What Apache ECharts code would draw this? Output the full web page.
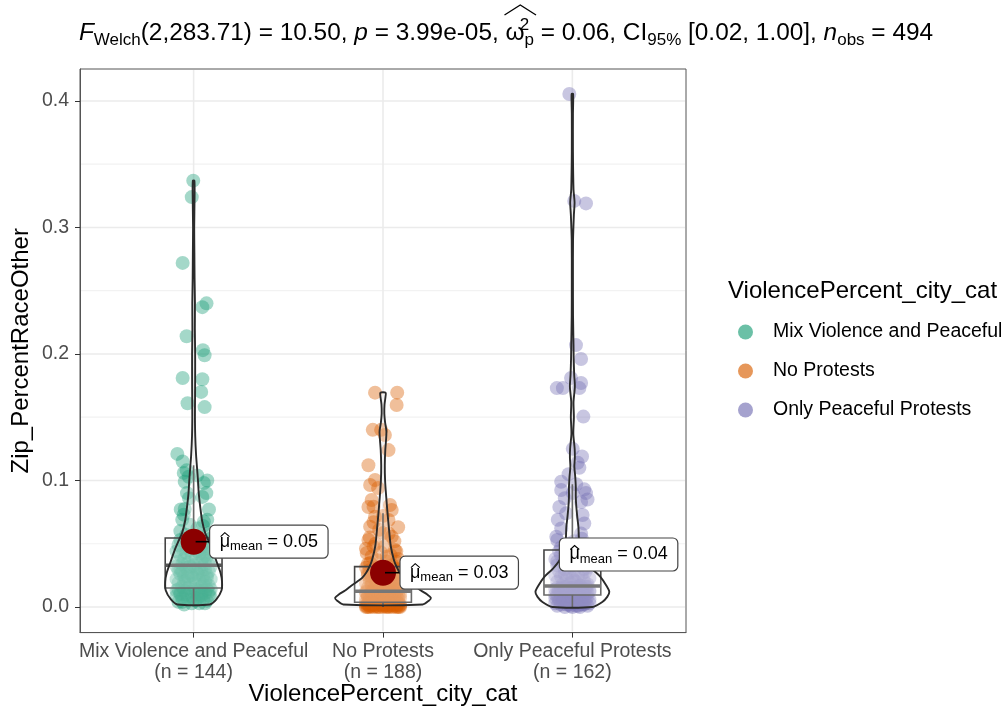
<!DOCTYPE html>
<html><head><meta charset="utf-8">
<script src="https://cdn.jsdelivr.net/npm/echarts@6/dist/echarts.min.js"></script>
<style>html,body{margin:0;padding:0;background:#fff}#c{width:1005px;height:712px}</style>
</head><body><div id="c"></div>
<script>
// ---------------- DATA ----------------
const categories = ['Mix Violence and Peaceful', 'No Protests', 'Only Peaceful Protests'];
const groupCounts = [144, 188, 162];
const yTicks = [0, 0.1, 0.2, 0.3, 0.4];
const yTickLabels = ['0.0', '0.1', '0.2', '0.3', '0.4'];
const yMinorTicks = [0.05, 0.15, 0.25, 0.35];
const xTicks = [1, 2, 3];

// points: [jitter offset (category units), value]
const pointsMix = [
[-0.002,0.337],[-0.010,0.324],[-0.058,0.272],[0.068,0.240],[0.046,0.237],[-0.037,0.214],[0.049,0.203],[0.058,0.199],
[-0.058,0.181],[0.046,0.180],[0.040,0.170],[-0.032,0.161],[0.058,0.158],[-0.086,0.121],[-0.058,0.115],[-0.052,0.106],
[-0.037,0.108],[-0.026,0.103],[-0.047,0.099],[0.072,0.100],[0.054,0.098],[0.019,0.104],[0.067,0.090],[-0.035,0.090],
[-0.024,0.086],[0.046,0.087],[-0.068,0.077],[0.081,0.077],[-0.047,0.0775],[-0.052,0.073],[-0.060,0.069],[0.072,0.069],
[0.054,0.0675],[0.079,0.0585],
[-0.05,0.002],[0.03,0.003],[-0.08,0.004],[0.07,0.005],[0.01,0.005],[-0.03,0.006],[0.05,0.006],[-0.06,0.007],[0.09,0.008],
[-0.01,0.008],[0.04,0.009],[-0.09,0.009],[0.02,0.010],[-0.04,0.010],[0.06,0.011],[-0.07,0.011],[0.00,0.012],[0.08,0.012],
[-0.02,0.012],[0.03,0.013],[-0.05,0.013],[0.05,0.013],[-0.08,0.014],[0.01,0.014],[0.07,0.014],[-0.03,0.015],[-0.06,0.004],
[0.06,0.003],[0.00,0.006],[-0.07,0.010],[0.08,0.009],[-0.01,0.003],[0.04,0.011],[-0.09,0.013],[0.02,0.007],[0.09,0.014],
[0.04,0.016],[-0.06,0.016],[0.08,0.017],[-0.02,0.018],[0.01,0.019],[-0.08,0.019],[0.06,0.020],[-0.04,0.021],[0.03,0.021],
[-0.09,0.022],[0.09,0.022],[0.00,0.023],[-0.05,0.024],[0.05,0.024],[-0.01,0.025],[0.07,0.025],[-0.07,0.026],[0.02,0.027],
[-0.03,0.027],[0.08,0.028],[-0.06,0.028],[0.04,0.029],[-0.08,0.029],[0.01,0.030],[0.06,0.030],[-0.04,0.031],[0.03,0.031],
[-0.02,0.032],[0.09,0.032],[-0.09,0.032],[0.05,0.018],[-0.05,0.020],[0.07,0.023],[-0.03,0.024],[0.02,0.026],[-0.07,0.030],
[0.00,0.033],[-0.06,0.034],[0.06,0.034],[-0.03,0.035],[0.04,0.036],[-0.08,0.036],[0.08,0.037],[0.01,0.038],[-0.05,0.038],
[0.05,0.039],[-0.01,0.040],[0.07,0.040],[-0.07,0.041],[0.03,0.042],[-0.04,0.043],[0.09,0.043],[-0.09,0.044],[0.02,0.044],
[-0.02,0.045],[0.06,0.046],[-0.06,0.046],[0.04,0.047],[-0.03,0.048],[0.08,0.048],[0.00,0.049],[-0.08,0.049],[0.05,0.050],
[-0.05,0.051],[0.07,0.051],[-0.01,0.052],[0.03,0.053],[-0.07,0.053],[0.09,0.054],[-0.04,0.054],[0.01,0.047],[0.06,0.041],
[-0.04,0.057],[0.02,0.062],[-0.07,0.060],[0.05,0.064],[-0.02,0.065]
];
const pointsNo = [
[-0.042,0.1694],[0.075,0.1694],[0.072,0.1597],[-0.054,0.140],[-0.010,0.140],[0.010,0.136],[0.029,0.124],[-0.077,0.112],
[-0.042,0.1004],[-0.068,0.0964],[-0.026,0.094],[-0.060,0.0846],[-0.050,0.0793],[0.037,0.0806],[0.046,0.0767],[-0.077,0.079],
[-0.042,0.0714],[0.029,0.0688],[-0.068,0.0635],[0.002,0.0585],[-0.077,0.053],[0.046,0.0556],[-0.050,0.0477],[0.063,0.045],
[-0.086,0.0427],[0.019,0.0398],[-0.068,0.0348],[0.072,0.0358],
[0.05,0.033],[-0.08,0.034],[0.02,0.036],[-0.03,0.037],[0.08,0.038],[-0.06,0.040],[0.04,0.041],[-0.01,0.043],[0.07,0.044],
[-0.09,0.046],[0.01,0.048],[-0.04,0.050],[0.06,0.052],[-0.07,0.055],[0.03,0.058],[-0.02,0.061],[0.08,0.063],[-0.05,0.067],[0.00,0.072],
[-0.05,0.013],[0.03,0.013],[0.08,0.014],[-0.02,0.014],[0.05,0.015],[-0.08,0.015],[0.00,0.016],[0.06,0.016],[-0.06,0.017],
[0.02,0.017],[-0.03,0.018],[0.09,0.018],[-0.09,0.019],[0.04,0.019],[-0.01,0.020],[0.07,0.020],[-0.07,0.021],[0.01,0.021],
[-0.04,0.022],[0.05,0.022],[0.08,0.023],[-0.02,0.023],[-0.06,0.024],[0.03,0.024],[0.00,0.025],[-0.08,0.025],[0.06,0.026],
[-0.03,0.026],[0.02,0.027],[-0.05,0.027],[0.09,0.028],[-0.01,0.028],[0.04,0.029],[-0.07,0.029],[0.07,0.030],[-0.04,0.030],
[0.01,0.031],[-0.09,0.031],[0.05,0.031],[-0.02,0.032],[0.03,0.015],[-0.04,0.017],[0.06,0.019],[-0.06,0.021],[0.02,0.023],
[-0.08,0.027],[0.08,0.026],
[0.04,0.004],[-0.06,0.004],[0.01,0.005],[-0.03,0.005],[0.07,0.005],[-0.09,0.006],[0.03,0.006],[-0.01,0.006],[0.06,0.007],
[-0.05,0.007],[0.09,0.007],[-0.07,0.008],[0.02,0.008],[-0.02,0.008],[0.05,0.009],[-0.08,0.009],[0.00,0.009],[0.08,0.010],
[-0.04,0.010],[0.03,0.010],[-0.06,0.011],[0.06,0.011],[-0.01,0.011],[0.01,0.012],[-0.09,0.012],[0.07,0.012],[-0.03,0.004],
[0.05,0.005],[-0.07,0.005],[0.00,0.006],[0.08,0.006],[-0.04,0.007],[0.02,0.007],[-0.08,0.008],[0.06,0.008],[-0.02,0.009],
[0.04,0.009],[-0.05,0.010],[0.09,0.010],[-0.09,0.011],[0.03,0.011],[-0.06,0.012],[0.05,0.012],[0.00,0.004],[-0.01,0.010],
[0.07,0.009],[-0.03,0.012],
[0.00,0.000],[0.05,0.000],[-0.05,0.000],[0.09,0.000],[-0.09,0.000],[0.03,0.001],[-0.03,0.001],[0.07,0.001],[-0.07,0.001],
[0.01,0.001],[-0.01,0.002],[0.06,0.002],[-0.06,0.002],[0.02,0.002],[-0.02,0.002],[0.08,0.003],[-0.08,0.003],[0.04,0.003],
[-0.04,0.003],[0.00,0.003],[0.02,0.000],[-0.02,0.000],[0.07,0.000],[-0.07,0.000],[0.04,0.001],[-0.04,0.001],[0.09,0.001],
[-0.09,0.001],[0.00,0.001],[0.05,0.002],[-0.05,0.002],[0.08,0.002],[-0.08,0.002],[0.01,0.003],[-0.01,0.003],[0.06,0.003],
[-0.06,0.003],[0.03,0.000],[-0.03,0.000],[0.08,0.000],[-0.08,0.000],[0.06,0.001],[-0.06,0.001],[0.02,0.001],[0.09,0.002],
[-0.09,0.003],[0.03,0.003]
];
const pointsOnly = [
[-0.016,0.4055],[0.010,0.321],[0.072,0.319],[0.019,0.207],[0.046,0.196],[-0.007,0.181],[0.046,0.177],[-0.082,0.173],
[-0.050,0.173],[0.037,0.173],[0.058,0.1505],[0.002,0.125],[0.051,0.119],[0.028,0.114],[0.037,0.110],[-0.059,0.099],
[0.063,0.093],[-0.059,0.0925],[0.072,0.090],[0.002,0.090],[0.046,0.083],[-0.069,0.079],[-0.033,0.074],[0.054,0.0727],
[-0.077,0.069],[0.063,0.066],[-0.059,0.062],[0.046,0.058],[-0.085,0.0556],[-0.02,0.105],[0.02,0.097],[-0.04,0.086],[0.08,0.085],
[0.03,0.046],[-0.06,0.047],[0.07,0.049],[-0.02,0.050],[0.01,0.052],[-0.08,0.053],[0.05,0.054],
[0.04,0.017],[-0.05,0.018],[0.08,0.018],[-0.01,0.019],[0.02,0.020],[-0.08,0.020],[0.06,0.021],[-0.03,0.022],[0.00,0.023],
[0.09,0.023],[-0.06,0.024],[0.03,0.025],[-0.09,0.025],[0.05,0.026],[-0.02,0.027],[0.07,0.028],[-0.07,0.028],[0.01,0.029],
[-0.04,0.030],[0.08,0.031],[-0.01,0.032],[0.04,0.033],[-0.08,0.033],[0.02,0.034],[-0.05,0.035],[0.06,0.036],[-0.03,0.037],
[0.09,0.038],[-0.09,0.038],[0.00,0.039],[0.05,0.040],[-0.06,0.041],[0.03,0.042],[-0.02,0.043],[0.07,0.044],[-0.07,0.044],
[0.01,0.021],[-0.04,0.026],[0.06,0.030],[-0.08,0.036],[0.04,0.039],
[-0.03,0.010],[0.05,0.010],[-0.08,0.010],[0.01,0.011],[0.08,0.011],[-0.05,0.011],[0.03,0.012],[-0.01,0.012],[0.06,0.012],
[-0.07,0.012],[0.00,0.013],[0.09,0.013],[-0.04,0.013],[0.04,0.013],[-0.09,0.014],[0.02,0.014],[-0.02,0.014],[0.07,0.014],
[-0.06,0.015],[0.05,0.015],[0.00,0.015],[-0.08,0.015],[0.03,0.016],[-0.03,0.016],[0.08,0.016],[-0.05,0.016],[0.01,0.010],
[0.06,0.011],[-0.02,0.011],[0.09,0.012],[-0.06,0.013],[0.02,0.012],[-0.09,0.010],[0.04,0.015],[-0.01,0.015],[0.07,0.016],
[-0.07,0.014],[0.05,0.013],[-0.04,0.015],[0.03,0.014],
[0.00,0.000],[0.04,0.000],[-0.04,0.000],[0.08,0.001],[-0.08,0.001],[0.02,0.001],[-0.02,0.002],[0.06,0.002],[-0.06,0.002],
[0.01,0.003],[-0.09,0.003],[0.09,0.003],[-0.03,0.004],[0.03,0.004],[0.05,0.005],[-0.05,0.005],[0.00,0.005],[-0.07,0.006],
[0.07,0.006],[0.02,0.006],[-0.01,0.007],[0.04,0.007],[-0.04,0.007],[0.08,0.008],[-0.08,0.008],[0.01,0.008],[-0.02,0.009],
[0.06,0.009],[-0.06,0.009],[0.03,0.001],[-0.03,0.002],[0.07,0.003],[-0.07,0.004],[0.05,0.002],[-0.05,0.004],[0.09,0.006],
[-0.09,0.007],[0.00,0.008],[0.03,0.009],[-0.01,0.001],[0.06,0.005]
];

// violin outlines: [value, half width in category units]
const violinMix = [
[0.002,0.085],[0.006,0.120],[0.013,0.147],[0.020,0.150],[0.027,0.142],[0.036,0.121],[0.045,0.100],[0.052,0.080],
[0.058,0.062],[0.068,0.045],[0.079,0.035],[0.090,0.027],[0.100,0.023],[0.110,0.018],[0.120,0.013],[0.135,0.0085],
[0.150,0.007],[0.165,0.0075],[0.180,0.008],[0.200,0.008],[0.220,0.0065],[0.240,0.007],[0.260,0.005],[0.280,0.004],
[0.300,0.003],[0.325,0.005],[0.337,0.004]
];
const violinNo = [
[0.002,0.210],[0.005,0.242],[0.007,0.253],[0.010,0.232],[0.013,0.200],[0.016,0.174],[0.020,0.137],[0.023,0.110],
[0.027,0.089],[0.032,0.071],[0.037,0.058],[0.048,0.041],[0.061,0.032],[0.074,0.024],[0.087,0.017],[0.100,0.011],
[0.112,0.0095],[0.124,0.012],[0.132,0.016],[0.139,0.018],[0.146,0.011],[0.153,0.007],[0.160,0.008],[0.166,0.013],[0.1694,0.014]
];
const violinOnly = [
[0.000,0.105],[0.004,0.158],[0.008,0.184],[0.012,0.195],[0.017,0.179],[0.024,0.147],[0.030,0.105],[0.037,0.068],
[0.047,0.039],[0.055,0.034],[0.063,0.032],[0.071,0.026],[0.079,0.021],[0.087,0.018],[0.095,0.018],[0.103,0.015],
[0.111,0.0105],[0.118,0.013],[0.125,0.012],[0.137,0.005],[0.150,0.008],[0.162,0.006],[0.174,0.013],[0.184,0.0095],
[0.196,0.007],[0.207,0.006],[0.230,0.0035],[0.260,0.003],[0.290,0.0035],[0.310,0.008],[0.320,0.0115],[0.330,0.006],
[0.360,0.003],[0.390,0.003],[0.4055,0.004]
];
const violins = [violinMix, violinNo, violinOnly];

// box stats: [lower whisker, Q1, median, Q3, upper whisker]
const boxStats = [
[0.002, 0.015, 0.033, 0.0545, 0.112],
[0.000, 0.0037, 0.0124, 0.0319, 0.074],
[0.000, 0.0095, 0.0166, 0.045, 0.097]
];
const meanValues = [0.0516, 0.0271, 0.0415];
const meanLabels = ['0.05', '0.03', '0.04'];

// title pieces: [text, kind]
const titleTokens = [
['F','i'],['Welch','sub'],['(2,283.71) = 10.50, ','t'],['p','i'],[' = 3.99e-05, ','t'],['ω','t'],['2','sup'],['p','sub'],
[' = 0.06, CI','t'],['95%','sub'],[' [0.02, 1.00], ','t'],['n','i'],['obs','sub'],[' = 494','t']
];

// ---------------- STYLE ----------------
const FONT = "'Liberation Sans', Arial, Helvetica, sans-serif";
const palette = ['#1B9E77', '#D95F02', '#7570B3'];
const labelOffsets = [16, 17, -13]; // px from mean point to label box
const Y_MIN = -0.02025, Y_MAX = 0.42525;
const TITLE_SIZE = 24.4, TITLE_SUB = 17, TITLE_X = 506, TITLE_Y = 33;
const LAB_SIZE = 18, LAB_SUB = 13, LAB_PADX = 10, LAB_H = 33;

const mctx = document.createElement('canvas').getContext('2d');
function tw(text, size, italic) {
  mctx.font = (italic ? 'italic ' : '') + size + 'px ' + FONT;
  return mctx.measureText(text).width;
}
const kindSize = k => (k === 'sub' || k === 'sup') ? TITLE_SUB : TITLE_SIZE;

// title layout
let titleW = 0, omegaX = 0, omegaW = 0;
titleTokens.forEach(([s, k]) => {
  if (s === 'ω') { omegaX = titleW; omegaW = tw(s, TITLE_SIZE, false); }
  if (k !== 'sup') titleW += tw(s, kindSize(k), k === 'i');
});
const titleLeft = TITLE_X - titleW / 2;
const hatL = titleLeft + omegaX - 1;
const hatR = titleLeft + omegaX + omegaW + tw('2', TITLE_SUB, false) + 2;

const chart = echarts.init(document.getElementById('c'), null, {renderer: 'canvas'});

const gridData = [];
yTicks.forEach(v => gridData.push([0, v]));
yMinorTicks.forEach(v => gridData.push([1, v]));
xTicks.forEach(v => gridData.push([2, v]));

const option = {
  animation: false,
  backgroundColor: '#fff',
  legend: {
    orient: 'vertical', left: 733, top: 317, itemWidth: 15, itemHeight: 15, itemGap: 19,
    icon: 'circle',
    textStyle: {fontSize: 19.5, lineHeight: 20, fontFamily: FONT, color: '#000', padding: [0, 0, 0, 15]},
    data: categories.map((c, i) => ({name: c, itemStyle: {color: palette[i], opacity: 0.65}}))
  },
  grid: {left: 80, top: 69, width: 606, height: 563.6, show: true, borderColor: '#555', borderWidth: 1,
    backgroundColor: 'transparent', outerBoundsMode: 'none', containLabel: false},
  xAxis: {
    type: 'value', min: 0.4, max: 3.6,
    axisLine: {show: true, onZero: false, lineStyle: {color: '#555', width: 1}},
    splitLine: {show: false},
    axisTick: {show: true, customValues: xTicks, length: 5, lineStyle: {color: '#333'}},
    axisLabel: {
      customValues: xTicks, fontSize: 19.5, lineHeight: 21, color: '#4D4D4D', fontFamily: FONT, margin: 9,
      formatter: v => { const k = xTicks.indexOf(Math.round(v)); return categories[k] + '\n(n = ' + groupCounts[k] + ')'; }
    },
    name: 'ViolencePercent_city_cat', nameLocation: 'middle', nameGap: 50, nameMoveOverlap: false,
    nameTextStyle: {fontSize: 24, fontFamily: FONT, color: '#000'}
  },
  yAxis: {
    type: 'value', min: Y_MIN, max: Y_MAX,
    axisLine: {show: true, lineStyle: {color: '#555', width: 1}},
    splitLine: {show: false},
    axisTick: {show: true, customValues: yTicks, length: 5, lineStyle: {color: '#333'}},
    axisLabel: {
      customValues: yTicks, fontSize: 19.5, color: '#4D4D4D', fontFamily: FONT, margin: 11,
      formatter: v => { let k = 0; yTicks.forEach((t, j) => { if (Math.abs(t - v) < 1e-9) k = j; }); return yTickLabels[k]; }
    },
    name: 'Zip_PercentRaceOther', nameLocation: 'middle', nameGap: 47, nameRotate: 90, nameMoveOverlap: false,
    nameTextStyle: {fontSize: 24, fontFamily: FONT, color: '#000'}
  },
  series: [
    {
      type: 'custom', silent: true, data: gridData, z: 1,
      renderItem: (params, api) => {
        const kind = api.value(0), v = api.value(1);
        const cs = params.coordSys;
        if (kind === 2) {
          const p = api.coord([v, Y_MIN]);
          return {type: 'line', shape: {x1: p[0], y1: cs.y + 1, x2: p[0], y2: cs.y + cs.height - 1}, style: {stroke: '#EBEBEB', lineWidth: 1.6}};
        }
        const p = api.coord([1, v]);
        return {type: 'line', shape: {x1: cs.x + 1, y1: p[1], x2: cs.x + cs.width - 1, y2: p[1]},
          style: {stroke: kind === 0 ? '#EBEBEB' : '#F2F2F2', lineWidth: kind === 0 ? 1.6 : 1.2}};
      }
    },
    ...[pointsMix, pointsNo, pointsOnly].map((pts, i) => ({
      type: 'scatter', name: categories[i], z: 2,
      data: pts.map(p => [xTicks[i] + p[0], p[1]]),
      symbolSize: 14,
      itemStyle: {color: palette[i], opacity: 0.4}
    })),
    {
      type: 'custom', silent: true, z: 3,
      data: boxStats.map((b, i) => [xTicks[i], b[2]]),
      renderItem: (params, api) => {
        const i = params.dataIndex, c = api.value(0), b = boxStats[i], hw = 0.15;
        const lo = api.coord([c, b[0]]), q1 = api.coord([c - hw, b[1]]), md = api.coord([c, b[2]]),
              q3 = api.coord([c + hw, b[3]]), hi = api.coord([c, b[4]]);
        const stroke = '#444';
        return {type: 'group', children: [
          {type: 'line', shape: {x1: lo[0], y1: lo[1], x2: lo[0], y2: q1[1]}, style: {stroke, lineWidth: 1.6}},
          {type: 'line', shape: {x1: hi[0], y1: hi[1], x2: hi[0], y2: q3[1]}, style: {stroke, lineWidth: 1.6}},
          {type: 'rect', shape: {x: q1[0], y: q3[1], width: q3[0] - q1[0], height: q1[1] - q3[1]},
            style: {fill: 'rgba(255,255,255,0.2)', stroke, lineWidth: 1.6}},
          {type: 'line', shape: {x1: q1[0], y1: md[1], x2: q3[0], y2: md[1]}, style: {stroke: '#555', lineWidth: 3.4}}
        ]};
      }
    },
    {
      type: 'custom', silent: true, z: 4,
      data: violins.map((v, i) => [xTicks[i], boxStats[i][2]]),
      renderItem: (params, api) => {
        const i = params.dataIndex, c = api.value(0), prof = violins[i];
        const pts = [];
        prof.forEach(p => pts.push(api.coord([c - p[1], p[0]])));
        for (let k = prof.length - 1; k >= 0; k--) pts.push(api.coord([c + prof[k][1], prof[k][0]]));
        return {type: 'polygon', shape: {points: pts, smooth: 0.25},
          style: {fill: 'rgba(255,255,255,0.2)', stroke: '#2b2b2b', lineWidth: 1.9}};
      }
    },
    {
      type: 'scatter', z: 5, silent: true,
      data: meanValues.map((m, i) => [xTicks[i], m]),
      symbolSize: 26, itemStyle: {color: '#8B0000', opacity: 1}
    },
    {
      type: 'custom', silent: true, z: 6,
      data: meanValues.map((m, i) => [xTicks[i], m]),
      renderItem: (params, api) => {
        const i = params.dataIndex;
        const p = api.coord([api.value(0), api.value(1)]);
        const lx = p[0] + labelOffsets[i];
        const rest = ' = ' + meanLabels[i];
        const muW = tw('μ', LAB_SIZE), meanW = tw('mean', LAB_SUB), restW = tw(rest, LAB_SIZE);
        const W = muW + meanW + restW + 2 * LAB_PADX;
        const txt = {fill: '#000', fontFamily: FONT, align: 'left', verticalAlign: 'middle'};
        const children = [];
        if (labelOffsets[i] > 0) {
          children.push({type: 'line', shape: {x1: p[0] + 2, y1: p[1], x2: lx, y2: p[1]}, style: {stroke: '#000', lineWidth: 1.6}});
        }
        children.push(
          {type: 'rect', shape: {x: lx, y: p[1] - LAB_H / 2, width: W, height: LAB_H, r: 5},
            style: {fill: '#fff', stroke: '#444', lineWidth: 1.2}},
          {type: 'text', x: lx + LAB_PADX, y: p[1], style: Object.assign({text: 'μ', fontSize: LAB_SIZE}, txt)},
          {type: 'polyline', shape: {points: [[lx + LAB_PADX + 1, p[1] - 5], [lx + LAB_PADX + muW / 2, p[1] - 9], [lx + LAB_PADX + muW - 0.5, p[1] - 5]]},
            style: {stroke: '#000', lineWidth: 1.1, fill: null}},
          {type: 'text', x: lx + LAB_PADX + muW, y: p[1] + 4.5, style: Object.assign({text: 'mean', fontSize: LAB_SUB}, txt)},
          {type: 'text', x: lx + LAB_PADX + muW + meanW, y: p[1], style: Object.assign({text: rest, fontSize: LAB_SIZE}, txt)}
        );
        return {type: 'group', children};
      }
    }
  ],
  graphic: [
    {type: 'text', left: 728, top: 279, style: {text: 'ViolencePercent_city_cat', fontSize: 24, fontFamily: FONT, fill: '#000'}},
    {
      type: 'text', x: TITLE_X, y: TITLE_Y,
      style: {
        text: titleTokens.map(([s, k]) => '{' + k + '|' + s + '}').join(''),
        align: 'center', verticalAlign: 'middle',
        rich: {
          t: {fontSize: TITLE_SIZE, fontFamily: FONT, fill: '#000', lineHeight: 32},
          i: {fontSize: TITLE_SIZE, fontFamily: FONT, fill: '#000', fontStyle: 'italic', lineHeight: 32},
          sub: {fontSize: TITLE_SUB, fontFamily: FONT, fill: '#000', verticalAlign: 'bottom', lineHeight: 18},
          sup: {fontSize: TITLE_SUB, fontFamily: FONT, fill: '#000', verticalAlign: 'top', lineHeight: 12, width: 0}
        }
      }
    },
    {type: 'polyline', shape: {points: [[hatL, 15], [(hatL + hatR) / 2, 5], [hatR, 15]]}, style: {stroke: '#000', lineWidth: 1.3, fill: null}}
  ]
};
chart.setOption(option);
</script>
</body></html>
